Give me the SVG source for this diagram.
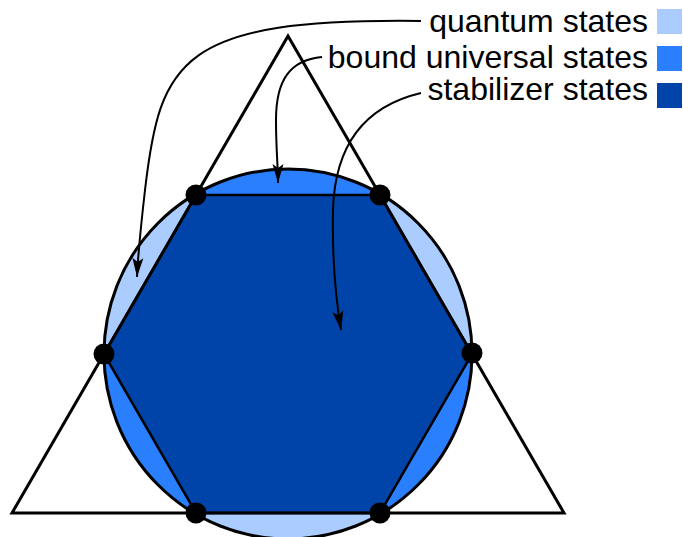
<svg xmlns="http://www.w3.org/2000/svg" width="683" height="537" viewBox="0 0 683 537">
<style>
.lbl{font-family:"Liberation Sans",Arial,sans-serif;font-size:32px;fill:#000;text-anchor:end}
.conn{fill:none;stroke:#000;stroke-width:2}
.dot{fill:#000}
</style>
<defs>
<clipPath id="tri"><polygon points="288,36 564,513 12,513"/></clipPath>
<marker id="arr" markerUnits="userSpaceOnUse" viewBox="-20 -7 22 14" refX="0" refY="0" markerWidth="22" markerHeight="14" orient="auto">
<path d="M0,0 L-19,-5.5 L-15,0 L-19,5.5 Z" fill="#000"/>
</marker>
</defs>
<rect width="683" height="537" fill="#fff"/>
<g id="quantum-region"><ellipse cx="288" cy="354" rx="184" ry="185" fill="#aaccff"/></g>
<g id="bound-region"><ellipse cx="288" cy="354" rx="184" ry="185" fill="#2a7fff" clip-path="url(#tri)"/></g>
<g id="stabilizer-region"><polygon points="196,195 380,195 472,354 380,513 196,513 104,354" fill="#0044aa" stroke="#000" stroke-width="2.5" stroke-linejoin="round"/></g>
<g id="circle-outline"><ellipse cx="288" cy="354" rx="184" ry="185" fill="none" stroke="#000" stroke-width="3"/></g>
<g id="triangle"><polygon points="288,36 564,513 12,513" fill="none" stroke="#000" stroke-width="3"/></g>
<g id="dots">
<circle class="dot" cx="196" cy="195" r="10.5"/>
<circle class="dot" cx="380" cy="195" r="10.5"/>
<circle class="dot" cx="472" cy="353" r="10.5"/>
<circle class="dot" cx="380" cy="513" r="10.5"/>
<circle class="dot" cx="196" cy="513" r="10.5"/>
<circle class="dot" cx="104" cy="354" r="10.5"/>
</g>
<g id="connectors">
<path class="conn" marker-end="url(#arr)" d="M421,21 C180,18 160,60 145,190 C141,225 138,255 137,277"/>
<path class="conn" marker-end="url(#arr)" d="M322,57 C290,60 276,80 276,120 C276,150 278,165 278,183"/>
<path class="conn" marker-end="url(#arr)" d="M421,93 C370,105 335,140 333,210 C332,260 336,300 341,330"/>
</g>
<g id="legend-quantum"><text class="lbl" x="648" y="32">quantum states</text><rect x="657" y="9" width="25" height="25" fill="#aaccff"/></g>
<g id="legend-bound"><text class="lbl" x="648" y="68">bound universal states</text><rect x="657" y="46" width="25" height="25" fill="#2a7fff"/></g>
<g id="legend-stabilizer"><text class="lbl" x="648" y="100">stabilizer states</text><rect x="657" y="83" width="25" height="25" fill="#0044aa"/></g>
</svg>
